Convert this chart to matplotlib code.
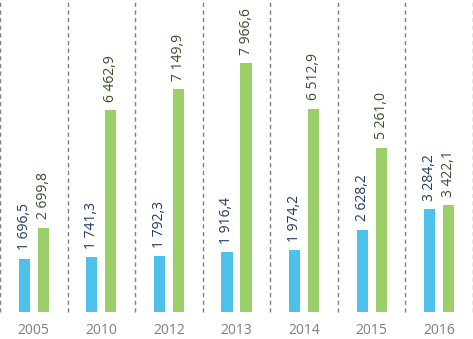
import matplotlib
matplotlib.use('Agg')
import matplotlib.pyplot as plt
import numpy as np

plt.rcParams['font.family'] = ['Open Sans', 'DejaVu Sans']

years = ['2005', '2010', '2012', '2013', '2014', '2015', '2016']
blue_vals = [1696.5, 1741.3, 1792.3, 1916.4, 1974.2, 2628.2, 3284.2]
green_vals = [2699.8, 6462.9, 7149.9, 7966.6, 6512.9, 5261.0, 3422.1]


def fmt(v):
    s = f'{v:,.1f}'
    return s.replace(',', ' ').replace('.', ',')


fig = plt.figure(figsize=(4.73, 3.39), dpi=100)
ax = fig.add_axes([0, 0.0805, 1, 0.9195])

x = np.arange(len(years))
w = 0.165
off = 0.141
bars_b = ax.bar(x - off, blue_vals, w, color='#4BC1EC')
bars_g = ax.bar(x + off, green_vals, w, color='#9BCF68')

for b, v in zip(bars_b, blue_vals):
    ax.annotate(fmt(v), (b.get_x() + b.get_width() / 2, v), xytext=(0, 6),
                textcoords='offset points', rotation=90, ha='center', va='bottom',
                fontsize=10, color='#1F3A68')
for b, v in zip(bars_g, green_vals):
    ax.annotate(fmt(v), (b.get_x() + b.get_width() / 2, v), xytext=(0, 6),
                textcoords='offset points', rotation=90, ha='center', va='bottom',
                fontsize=10, color='#36502A')

# dashed separators between categories
for sx in np.arange(-0.5, len(years), 1.0):
    ax.axvline(sx, color='#7F7F7F', linestyle=(0, (3, 2.5)), linewidth=1, clip_on=False)

ax.set_xlim(-0.5, len(years) - 0.5)
ax.set_ylim(0, 10000)
ax.set_xticks(x)
ax.set_xticklabels(years, fontsize=10, color='#7F7F7F')
ax.tick_params(axis='x', length=0, pad=8)
ax.set_yticks([])
for s in ax.spines.values():
    s.set_visible(False)

fig.savefig('out.png', dpi=100)
